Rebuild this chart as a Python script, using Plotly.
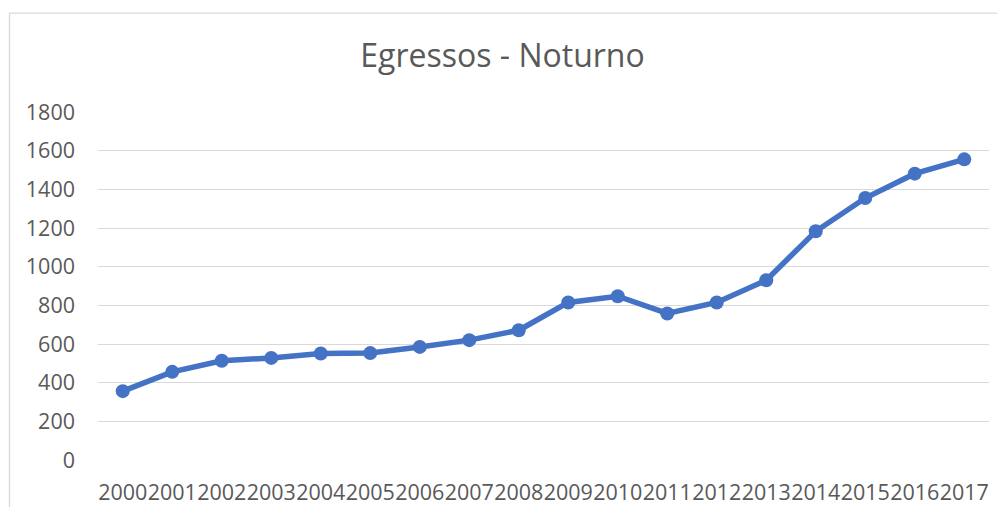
import plotly.graph_objects as go

years = [str(y) for y in range(2000, 2018)]
egressos = [356, 456, 513, 528, 551, 553, 585, 620, 671, 815, 847, 758, 815, 930, 1183, 1355, 1481, 1555]

# page body has an 8px margin; size the figure so it fits the 1005x515 window
OFF = 8
W, H = 1005 - 2 * OFF, 515 - 2 * OFF
L = 98 - OFF
R = W - (989 - OFF)
T = 111.5 - OFF
B = H - (460 - OFF)
pw, ph = W - L - R, H - T - B

fig = go.Figure()
fig.add_trace(go.Scatter(
    x=years, y=egressos, mode="lines+markers",
    line=dict(color="#4472C4", width=5.5),
    marker=dict(color="#4472C4", size=14),
    hoverinfo="skip", showlegend=False,
))

font_family = "Open Sans"
fig.update_layout(
    width=W, height=H,
    margin=dict(l=L, r=R, t=T, b=B, pad=0, autoexpand=False),
    paper_bgcolor="white", plot_bgcolor="white",
    title=dict(text="Egressos - Noturno", x=0.5, xanchor="center",
               y=1 - (56 - OFF) / H, yanchor="middle",
               font=dict(family=font_family, size=32, color="#595959")),
    xaxis=dict(type="category", range=[-0.5, 17.5], showgrid=False,
               showline=False, zeroline=False, ticks="", tickangle=0,
               automargin=False,
               tickfont=dict(family=font_family, size=21.5, color="#595959"),
               ticklabelstandoff=17, fixedrange=True),
    yaxis=dict(range=[0, 1800], dtick=200, showgrid=True, gridcolor="#d9d9d9",
               gridwidth=1.3, showline=False, zeroline=False, ticks="",
               automargin=False,
               tickfont=dict(family=font_family, size=21.5, color="#595959"),
               ticklabelstandoff=22, fixedrange=True),
    shapes=[dict(type="rect", xref="paper", yref="paper",
                 x0=(9.5 - OFF - L) / pw, x1=(W + 10 - L) / pw,
                 y0=(H - B - (12.5 - OFF)) / ph, y1=(H - B - (H + 10)) / ph,
                 line=dict(color="#d9d9d9", width=1.3), fillcolor="rgba(0,0,0,0)",
                 layer="below")],
)

fig.write_html("out.html")
